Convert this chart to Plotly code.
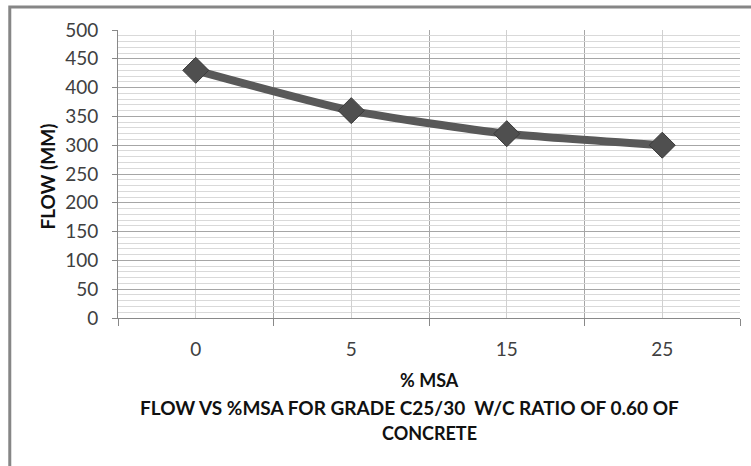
import plotly.graph_objects as go

# Slump-flow results for C25/30 concrete, w/c 0.60
msa_percent = ["0", "5", "15", "25"]
flow_mm = [430, 360, 320, 300]

y_ticks = [0, 50, 100, 150, 200, 250, 300, 350, 400, 450, 500]

positions = list(range(len(msa_percent)))
boundaries = [p - 0.5 for p in positions] + [positions[-1] + 0.5]

fig = go.Figure()
fig.add_trace(go.Scatter(
    x=positions,
    y=flow_mm,
    mode="lines+markers",
    line=dict(color="#595959", width=8, shape="spline", smoothing=0.6),
    marker=dict(symbol="diamond", size=20, color="#4f4f4f",
                line=dict(color="#3a3a3a", width=1)),
    showlegend=False,
    hoverinfo="skip",
))

label_font = dict(family="Lato", size=19, color="#404040")
title_font = dict(family="Lato", size=18, color="#111111")

fig.update_xaxes(
    range=[-0.5, len(msa_percent) - 0.5],
    tickmode="array",
    tickvals=positions,
    ticktext=msa_percent,
    ticks="",
    ticklabelstandoff=14,
    tickfont=label_font,
    showgrid=True,
    gridcolor="#d0d0d0",
    gridwidth=1,
    minor=dict(tickmode="array", tickvals=boundaries, ticks="outside",
               ticklen=7, tickcolor="#888888", showgrid=True,
               gridcolor="#a6a6a6", gridwidth=1),
    showline=True,
    linecolor="#888888",
    linewidth=1,
    zeroline=False,
    fixedrange=True,
)

fig.update_yaxes(
    range=[0, 500],
    tickmode="array",
    tickvals=y_ticks,
    ticks="outside",
    ticklen=5,
    tickcolor="#888888",
    ticklabelstandoff=10,
    tickfont=label_font,
    showgrid=True,
    gridcolor="#a6a6a6",
    gridwidth=1,
    minor=dict(dtick=10, showgrid=True, gridcolor="#d9d9d9", gridwidth=1,
               ticks=""),
    showline=True,
    linecolor="#888888",
    linewidth=1,
    zeroline=False,
    fixedrange=True,
)

# Axis titles and the two-line caption beneath the chart
fig.add_annotation(text="<b>FLOW (MM)</b>", textangle=-90, xref="paper", yref="paper",
                   x=-0.113, y=0.49, showarrow=False,
                   font=dict(family="Lato", size=19, color="#111111"),
                   xanchor="center", yanchor="middle")
fig.add_annotation(text="<b>% MSA</b>", xref="paper", yref="paper",
                   x=0.5, y=-0.215, showarrow=False, font=title_font,
                   xanchor="center", yanchor="middle")
fig.add_annotation(text="<b>FLOW VS %MSA FOR GRADE C25/30  W/C RATIO OF 0.60 OF</b>",
                   xref="paper", yref="paper", x=0.468, y=-0.31, showarrow=False,
                   font=dict(family="Lato", size=19, color="#111111"),
                   xanchor="center", yanchor="middle")
fig.add_annotation(text="<b>CONCRETE</b>", xref="paper", yref="paper",
                   x=0.5, y=-0.4, showarrow=False, font=title_font,
                   xanchor="center", yanchor="middle")

# Chart-area frame
fig.add_shape(type="rect", xref="paper", yref="paper",
              x0=-0.174, y0=-0.6, x1=1.2, y1=1.08,
              line=dict(color="#868686", width=3), fillcolor="rgba(0,0,0,0)",
              layer="below")

fig.update_layout(
    width=751,
    height=466,
    margin=dict(l=118, r=11, t=30, b=148),
    paper_bgcolor="white",
    plot_bgcolor="white",
)

fig.write_html("out.html")
